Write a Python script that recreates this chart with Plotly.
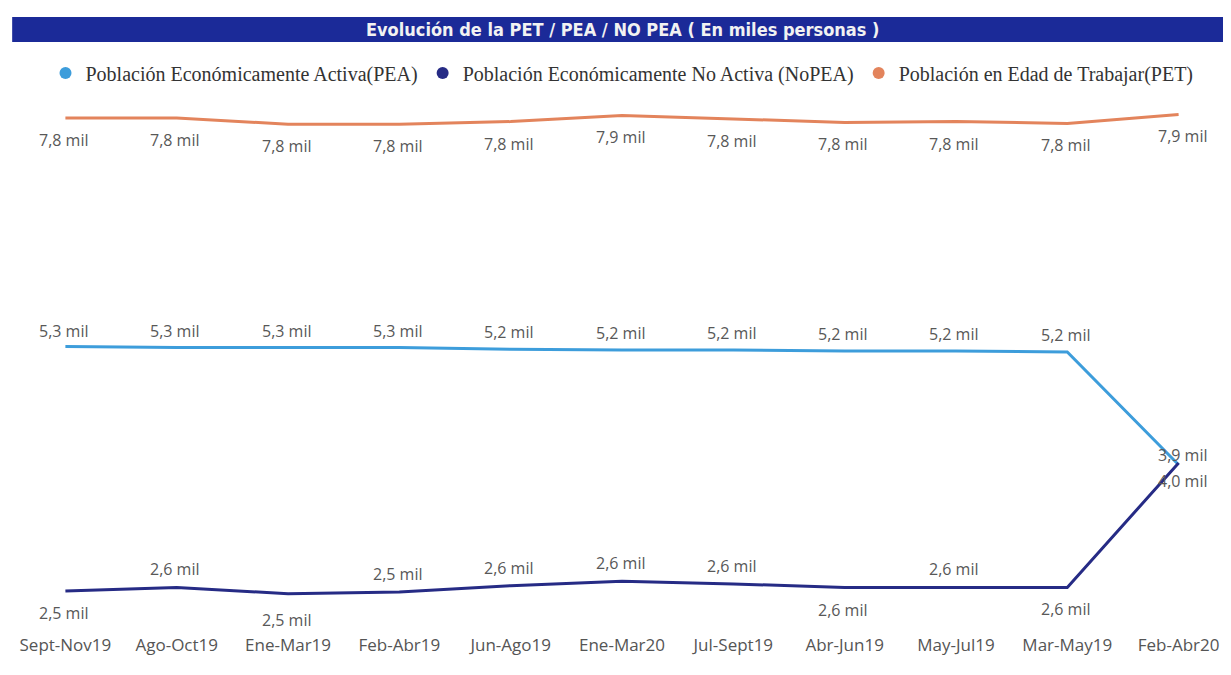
import plotly.graph_objects as go

# ---------------- data (miles de personas) ----------------
categories = ["Sept-Nov19", "Ago-Oct19", "Ene-Mar19", "Feb-Abr19", "Jun-Ago19",
              "Ene-Mar20", "Jul-Sept19", "Abr-Jun19", "May-Jul19", "Mar-May19", "Feb-Abr20"]
pea = [5.27, 5.26, 5.26, 5.26, 5.24, 5.23, 5.23, 5.22, 5.22, 5.21, 3.94]
nopea = [2.52, 2.56, 2.49, 2.51, 2.58, 2.63, 2.60, 2.56, 2.56, 2.56, 3.96]
pet = [7.84, 7.84, 7.77, 7.77, 7.80, 7.87, 7.83, 7.79, 7.80, 7.78, 7.88]

names = ["Población Económicamente Activa(PEA)",
         "Población Económicamente No Activa (NoPEA)",
         "Población en Edad de Trabajar(PET)"]
title_text = "Evolución de la PET / PEA / NO PEA ( En miles personas )"

# ---------------- styles ----------------
colors = ["#3d9ddb", "#262b85", "#e3845c"]
# label pixel offsets (positive = above)
pea_shift = [16, 16, 16, 16, 17, 17, 17, 17, 17, 17, 10]
nopea_shift = [-22, 18, -26, 18, 18, 18, 18, -23, 18, -22, -18]
pet_shift = [-22] * 11

label_font = dict(family="Open Sans", size=16, color="#585858")

def fmt(v):
    return f"{v:.1f}".replace(".", ",") + " mil"

fig = go.Figure()
series = [pea, nopea, pet]
for vals, col in zip(series, colors):
    fig.add_trace(go.Scatter(x=categories, y=vals, mode="lines",
                             line=dict(color=col, width=3),
                             showlegend=False, hoverinfo="skip"))
# legend entries (dots)
for nm, col in zip(names, colors):
    fig.add_trace(go.Scatter(x=[None], y=[None], mode="markers", name=nm,
                             marker=dict(color=col, size=6)))

annotations = []
for vals, shifts in zip(series, [pea_shift, nopea_shift, pet_shift]):
    for i, (c, v) in enumerate(zip(categories, vals)):
        annotations.append(dict(x=c, y=v, xref="x", yref="y", text=fmt(v),
                                showarrow=False, yshift=shifts[i],
                                xshift=4 if i == len(vals) - 1 else -2,
                                font=label_font))

annotations.append(dict(x=0.5, y=(625 - 29) / 525, xref="paper", yref="paper",
                        text="<b>" + title_text + "</b>", showarrow=False,
                        font=dict(family="DejaVu Sans Condensed, Liberation Sans", size=18,
                                  color="#f2f2f2"),
                        yanchor="middle"))

fig.update_layout(
    width=1223, height=667,
    margin=dict(l=20, r=13, t=92, b=50),
    paper_bgcolor="white", plot_bgcolor="white",
    annotations=annotations,
    shapes=[dict(type="rect", xref="paper", yref="paper",
                 x0=(8 - 28) / 1190, x1=(1240 - 28) / 1190,
                 y0=(625 - 42) / 525, y1=(625 - 17) / 525,
                 fillcolor="#1b2a98", line=dict(width=0), layer="below")],
    legend=dict(orientation="h", x=0.5, xanchor="center",
                y=(625 - 73) / 525, yanchor="middle",
                font=dict(family="Liberation Serif", size=20, color="#333333"),
                itemsizing="constant", itemwidth=30, tracegroupgap=0,
                bgcolor="rgba(0,0,0,0)"),
    xaxis=dict(type="category", range=[-0.3, 10.3], showgrid=False, zeroline=False,
               showline=False, ticks="", ticklabelstandoff=8,
               tickfont=dict(family="Open Sans", size=17, color="#555555")),
    yaxis=dict(range=[2.138, 8.043], visible=False, showgrid=False, zeroline=False),
)

fig.write_html("out.html")
